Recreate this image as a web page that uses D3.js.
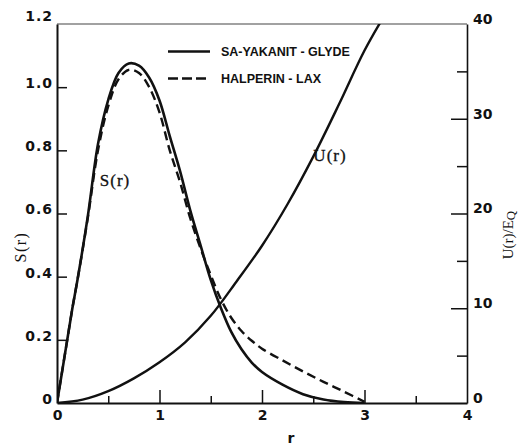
<!DOCTYPE html>
<html>
<head>
<meta charset="utf-8">
<script src="https://cdn.jsdelivr.net/npm/d3@7"></script>
<style>
  body { margin: 0; background: #fff; }
  svg { display: block; }
  .tick text { font-family: "DejaVu Sans", sans-serif; font-weight: bold; font-size: 14px; fill: #111; }
  .serif { font-family: "Liberation Serif", "Times New Roman", serif; fill: #111; }
</style>
</head>
<body>
<script>
// radius values
var r_vals = [0, 0.05, 0.1, 0.15, 0.2, 0.3, 0.4, 0.5, 0.6, 0.7, 0.8, 0.9, 1.0, 1.1, 1.2, 1.3, 1.4, 1.5, 1.6, 1.7, 1.8, 1.9, 2.0, 2.2, 2.4, 2.6, 2.8, 3.0]
// S(r), Sa-yakanit - Glyde (solid)
var s_glyde = [0, 0.1, 0.2, 0.3, 0.39, 0.59, 0.82, 0.96, 1.045, 1.075, 1.068, 1.03, 0.958, 0.845, 0.735, 0.61, 0.50, 0.39, 0.30, 0.225, 0.17, 0.128, 0.098, 0.058, 0.028, 0.011, 0.003, 0]
// S(r), Halperin - Lax (dashed)
var s_lax = [0, 0.1, 0.2, 0.3, 0.39, 0.585, 0.80, 0.94, 1.025, 1.055, 1.045, 1.0, 0.92, 0.80, 0.70, 0.585, 0.49, 0.405, 0.328, 0.27, 0.228, 0.197, 0.172, 0.135, 0.1, 0.067, 0.036, 0.004]
// U(r)/EQ on the right axis
var u_r = [0, 0.25, 0.5, 0.75, 1.0, 1.25, 1.5, 1.75, 2.0, 2.25, 2.5, 2.75, 3.0, 3.2]
var u_vals = [0, 0.35, 1.25, 2.6, 4.3, 6.4, 9.2, 12.8, 16.6, 21.0, 26.0, 31.5, 37.2, 41]

var left_ticks = [0, 0.2, 0.4, 0.6, 0.8, 1.0, 1.2]
var bottom_ticks = [0, 0.5, 1, 1.5, 2, 2.5, 3, 3.5, 4]
var right_ticks = [0, 5, 10, 15, 20, 25, 30, 35, 40]
var legend_names = ['SA-YAKANIT - GLYDE', 'HALPERIN - LAX']

var W = 523, H = 445
var x0 = 57, x1 = 467, y0 = 403, y1 = 24

var svg = d3.select('body').append('svg')
  .attr('width', W)
  .attr('height', H)

var x_scale = d3.scaleLinear().domain([0, 4]).range([x0, x1])
var y_scale = d3.scaleLinear().domain([0, 1.2]).range([y0, y1])
var u_scale = d3.scaleLinear().domain([0, 40]).range([y0, y1])

svg.append('clipPath').attr('id', 'plot')
  .append('rect').attr('x', x0).attr('y', y1).attr('width', x1 - x0).attr('height', y0 - y1)

// top frame line
svg.append('line')
  .attr('x1', x0).attr('x2', x1).attr('y1', y1).attr('y2', y1)
  .style('stroke', '#444').style('stroke-width', 1.2)

// left axis, ticks pointing in
var left_axis = svg.append('g')
  .attr('transform', 'translate(' + x0 + ',0)')
  .call(d3.axisLeft(y_scale).tickValues(left_ticks).tickSize(-10).tickSizeOuter(0).tickPadding(4)
    .tickFormat(function(d) { return d === 0 ? '0' : d3.format('.1f')(d) }))
left_axis.select('.domain').style('stroke', '#111').style('stroke-width', 2)
left_axis.selectAll('.tick line')
  .style('stroke', '#111').style('stroke-width', 1.5)
  .attr('x2', function(d) { return (d === 0 || d === 1.2) ? 0 : 10 })
left_axis.selectAll('.tick text')
  .attr('transform', function(d) { return d === 1.2 ? 'translate(0,-8)' : 'translate(0,-4)' })
  .style('letter-spacing', '1px')

// bottom axis
var bottom_axis = svg.append('g')
  .attr('transform', 'translate(0,' + y0 + ')')
  .call(d3.axisBottom(x_scale).tickValues(bottom_ticks).tickSize(-13).tickSizeOuter(0).tickPadding(7)
    .tickFormat(function(d) { return d % 1 === 0 ? d : '' }))
bottom_axis.select('.domain').style('stroke', '#111').style('stroke-width', 2)
bottom_axis.selectAll('.tick line')
  .style('stroke', '#111').style('stroke-width', 1.5)
  .attr('y2', function(d) {
    if (d === 0 || d === 4) return 0
    return d % 1 === 0 ? -13 : -7
  })

// right axis
var right_axis = svg.append('g')
  .attr('transform', 'translate(' + x1 + ',0)')
  .call(d3.axisRight(u_scale).tickValues(right_ticks).tickSize(-16).tickSizeOuter(0).tickPadding(6)
    .tickFormat(function(d) { return d % 10 === 0 ? d : '' }))
right_axis.select('.domain').style('stroke', '#111').style('stroke-width', 1.6)
right_axis.selectAll('.tick line')
  .style('stroke', '#111').style('stroke-width', 1.5)
  .attr('x2', function(d) {
    if (d === 0 || d === 40) return 0
    return d % 10 === 0 ? -16 : -10
  })
right_axis.selectAll('.tick text').attr('transform', 'translate(0,-5)')

// curves
var plot = svg.append('g').attr('clip-path', 'url(#plot)')

var line = d3.line()
  .x(function(d) { return x_scale(d[0]) })
  .y(function(d) { return d[2](d[1]) })
  .curve(d3.curveCatmullRom.alpha(0.5))

function pairs(xs, ys, sc) {
  return xs.map(function(v, i) { return [v, ys[i], sc] })
}

plot.append('path')
  .datum(pairs(r_vals, s_lax, y_scale))
  .attr('d', line)
  .style('fill', 'none').style('stroke', '#111').style('stroke-width', 2.4)
  .style('stroke-dasharray', '9,5')

plot.append('path')
  .datum(pairs(r_vals, s_glyde, y_scale))
  .attr('d', line)
  .style('fill', 'none').style('stroke', '#111').style('stroke-width', 2.6)

plot.append('path')
  .datum(pairs(u_r, u_vals, u_scale))
  .attr('d', line)
  .style('fill', 'none').style('stroke', '#111').style('stroke-width', 2.4)

// legend
var legend = svg.append('g')
legend_names.forEach(function(name, i) {
  var ly = 51.5 + i * 27
  legend.append('line')
    .attr('x1', 168).attr('x2', 210).attr('y1', ly).attr('y2', ly)
    .style('stroke', '#111').style('stroke-width', 2.6)
    .style('stroke-dasharray', i === 1 ? '10,4' : null)
  legend.append('text')
    .attr('x', 221).attr('y', ly).attr('dy', '0.35em')
    .style('font-family', '"Liberation Sans", Arial, sans-serif')
    .style('font-weight', 'bold').style('font-size', '12.5px').style('fill', '#111')
    .text(name)
})

// curve labels
svg.append('text').attr('class', 'serif')
  .attr('x', 115).attr('y', 186).attr('text-anchor', 'middle')
  .style('font-size', '17px').style('letter-spacing', '1px')
  .style('stroke', '#111').style('stroke-width', 0.3)
  .text('S(r)')
svg.append('text').attr('class', 'serif')
  .attr('x', 330).attr('y', 161).attr('text-anchor', 'middle')
  .style('font-size', '17px').style('letter-spacing', '1px')
  .style('stroke', '#111').style('stroke-width', 0.3)
  .text('U(r)')

// axis titles
svg.append('text').attr('class', 'serif')
  .attr('transform', 'translate(26,247)rotate(-90)')
  .attr('text-anchor', 'middle')
  .style('font-size', '16px').style('letter-spacing', '1.5px')
  .text('S(r)')

var u_title = svg.append('text').attr('class', 'serif')
  .attr('transform', 'translate(513,235)rotate(-90)')
  .attr('text-anchor', 'middle')
  .style('font-size', '15px')
u_title.append('tspan').text('U(r)/E')
u_title.append('tspan').attr('dy', 2).style('font-size', '13px').text('Q')

svg.append('text')
  .attr('x', 291).attr('y', 443).attr('text-anchor', 'middle')
  .style('font-family', '"DejaVu Sans", sans-serif').style('font-weight', 'bold')
  .style('font-size', '14px').style('fill', '#111')
  .text('r')
</script>
</body>
</html>
